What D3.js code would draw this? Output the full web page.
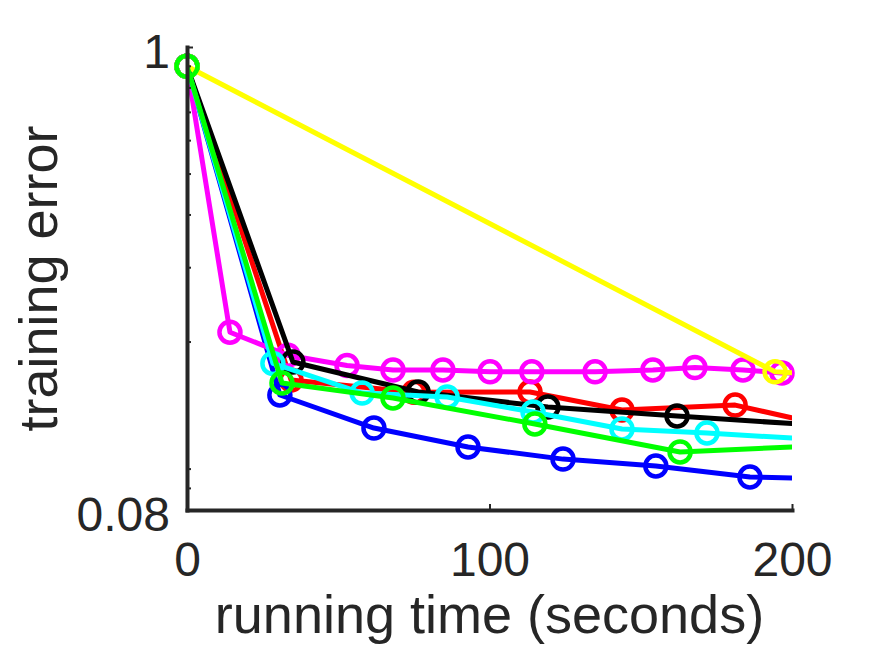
<!DOCTYPE html>
<html>
<head>
<meta charset="utf-8">
<script src="https://cdn.jsdelivr.net/npm/d3@7"></script>
<style>
    body { margin: 0; background: #ffffff; }
    text { font-family: "Liberation Sans", Arial, Helvetica, sans-serif; fill: #262626; }
</style>
</head>
<body>
<div id="main"></div>
<script>
// series data (time in seconds, training error)
const redTime = [0, 34.4, 75, 113.4, 143.8, 181.2, 215];
const redError = [0.9, 0.1626, 0.152, 0.1523, 0.138, 0.1418, 0.125];

const blueTime = [0, 30.7, 61.8, 92.9, 124.3, 155.0, 186.1, 217];
const blueError = [0.9, 0.1498, 0.1251, 0.1128, 0.1056, 0.1017, 0.0958, 0.0947];

const magentaTime = [0, 14.2, 33.4, 52.9, 68.1, 84.6, 100.2, 114.0, 134.9, 154.0, 167.9, 183.8, 196.7, 212];
const magentaError = [0.9, 0.211, 0.186, 0.176, 0.1717, 0.1717, 0.17, 0.17, 0.17, 0.1717, 0.174, 0.1717, 0.169, 0.169];

const blackTime = [0, 35.0, 76.4, 119.3, 162.0, 204.7];
const blackError = [0.9, 0.1794, 0.1523, 0.1403, 0.1336, 0.1275];

const cyanTime = [0, 28.4, 57.9, 86.0, 114.4, 143.8, 171.9, 201];
const cyanError = [0.9, 0.178, 0.1514, 0.1482, 0.1365, 0.1245, 0.1218, 0.1183];

const yellowTime = [0, 194.4, 389];
const yellowError = [0.9, 0.17, 0.141];

const greenTime = [0, 31.4, 68.1, 115.0, 163.0, 210];
const greenError = [0.9, 0.16, 0.1474, 0.1279, 0.1098, 0.1136];

// drawing order: red, blue, magenta, black, cyan, yellow, green
const seriesColors = ["#ff0000", "#0000ff", "#ff00ff", "#000000", "#00ffff", "#ffff00", "#00ff00"];

const xTicks = [0, 100, 200];
const yTicks = [0.08, 1];
const yMinorTicks = [0.09, 0.1, 0.2, 0.3, 0.4, 0.5, 0.6, 0.7, 0.8, 0.9];

const xLabel = "running time (seconds)";
const yLabel = "training error";

class ErrorPlot {
    constructor(config) {
        this.config = config;
        this.svg = null;
        this.xScale = null;
        this.yScale = null;
        this.series = [];

        this.createSvg();
    }

    createSvg() {
        this.svg = d3.select(this.config.div)
            .append("svg")
            .attr("width", this.config.width)
            .attr("height", this.config.height);

        this.svg.append("rect")
            .attr("width", this.config.width)
            .attr("height", this.config.height)
            .attr("fill", "#ffffff");

        this.svg.append("defs")
            .append("clipPath")
            .attr("id", "plot-clip")
            .append("rect")
            .attr("x", this.config.left)
            .attr("y", this.config.top)
            .attr("width", this.config.right - this.config.left)
            .attr("height", this.config.bottom - this.config.top);
    }

    createSeries(times, errors, colors) {
        this.series = times.map((t, i) => {
            return {
                color: colors[i],
                points: t.map((d, j) => ({ time: d, error: errors[i][j] }))
            };
        });
    }

    createScales() {
        this.xScale = d3.scaleLinear().domain([0, 200]).range([this.config.left, this.config.right]);
        this.yScale = d3.scaleLog().domain([0.08, 1]).range([this.config.bottom, this.config.top]);
    }

    createAxis() {
        let xAxis = d3.axisBottom(this.xScale)
            .tickValues(xTicks)
            .tickFormat(d3.format("d"))
            .tickSizeInner(-6)
            .tickSizeOuter(0)
            .tickPadding(32);

        let yAxis = d3.axisLeft(this.yScale)
            .tickValues(yTicks)
            .tickFormat(d => d === 1 ? "1" : d3.format(".2f")(d))
            .tickSizeInner(-6)
            .tickSizeOuter(0)
            .tickPadding(17);

        let gx = this.svg.append("g")
            .attr("transform", `translate(0,${this.config.bottom})`)
            .call(xAxis);

        let gy = this.svg.append("g")
            .attr("transform", `translate(${this.config.left},0)`)
            .call(yAxis);

        // minor log ticks
        gy.selectAll(".minor")
            .data(yMinorTicks)
            .join("line")
            .attr("class", "minor")
            .attr("x1", 0)
            .attr("x2", 4)
            .attr("y1", d => this.yScale(d))
            .attr("y2", d => this.yScale(d));

        [gx, gy].forEach(g => {
            g.select(".domain")
                .attr("stroke", "#262626")
                .attr("stroke-width", 4)
                .attr("stroke-linecap", "square");
            g.selectAll("line")
                .attr("stroke", "#262626")
                .attr("stroke-width", 2);
            g.selectAll("text")
                .attr("font-size", 48)
                .attr("font-family", null)
                .attr("fill", "#262626");
        });
        gy.selectAll(".tick text").attr("dy", "0.42em");

        this.svg.append("text")
            .attr("x", (this.config.left + this.config.right) / 2)
            .attr("y", 633)
            .attr("text-anchor", "middle")
            .attr("font-size", 54)
            .text(xLabel);

        this.svg.append("text")
            .attr("transform", `translate(57,${(this.config.top + this.config.bottom) / 2}) rotate(-90)`)
            .attr("text-anchor", "middle")
            .attr("font-size", 54)
            .text(yLabel);
    }

    linesRender() {
        let line = d3.line()
            .x(d => this.xScale(d.time))
            .y(d => this.yScale(d.error));

        let groups = this.svg.append("g")
            .selectAll("g")
            .data(this.series)
            .join("g");

        groups.append("path")
            .attr("clip-path", "url(#plot-clip)")
            .attr("fill", "none")
            .attr("stroke", d => d.color)
            .attr("stroke-width", 5)
            .attr("stroke-linejoin", "round")
            .attr("d", d => line(d.points));

        groups.selectAll("circle")
            .data(d => d.points.filter(p => p.time <= 200).map(p => ({ ...p, color: d.color })))
            .join("circle")
            .attr("cx", d => this.xScale(d.time))
            .attr("cy", d => this.yScale(d.error))
            .attr("r", 10.5)
            .attr("fill", "none")
            .attr("stroke", d => d.color)
            .attr("stroke-width", 4.5);
    }
}

function main() {
    let config = { div: "#main", width: 875, height: 656, top: 47, left: 187, bottom: 510, right: 792 };

    let app = new ErrorPlot(config);

    app.createSeries(
        [redTime, blueTime, magentaTime, blackTime, cyanTime, yellowTime, greenTime],
        [redError, blueError, magentaError, blackError, cyanError, yellowError, greenError],
        seriesColors
    );

    app.createScales();

    app.linesRender();

    app.createAxis();
}

main();
</script>
</body>
</html>
